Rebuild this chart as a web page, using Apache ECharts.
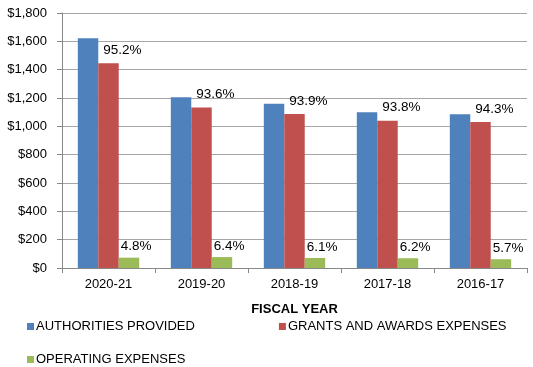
<!DOCTYPE html>
<html>
<head>
<meta charset="utf-8">
<script src="https://cdn.jsdelivr.net/npm/echarts@6/dist/echarts.min.js"></script>
<style>html,body{margin:0;padding:0;background:#fff;}#c{width:533px;height:367px;}</style>
</head>
<body>
<div id="c"></div>
<script>
const categories = ['2020-21', '2019-20', '2018-19', '2017-18', '2016-17'];
const authorities = [1621, 1205, 1160, 1100, 1085];
const grants = [1445, 1133, 1087, 1040, 1030];
const operating = [73, 77, 71, 69, 62];
const grantsPct = ['95.2%', '93.6%', '93.9%', '93.8%', '94.3%'];
const operatingPct = ['4.8%', '6.4%', '6.1%', '6.2%', '5.7%'];
const yTicks = [0, 200, 400, 600, 800, 1000, 1200, 1400, 1600, 1800];

const font = 'Liberation Sans, Arial, sans-serif';
const chart = echarts.init(document.getElementById('c'));
chart.setOption({
  animation: false,
  textStyle: { fontFamily: font },
  grid: { left: 62, right: 6, top: 13, bottom: 99, containLabel: false },
  legend: [
    { left: 22, top: 315, itemGap: 84, itemWidth: 7, itemHeight: 7, icon: 'rect',
      data: ['AUTHORITIES PROVIDED', 'GRANTS AND AWARDS EXPENSES'],
      textStyle: { fontFamily: font, fontSize: 13, color: '#000', padding: [0, 0, 0, -3] } },
    { left: 22, top: 348, itemWidth: 7, itemHeight: 7, icon: 'rect',
      data: ['OPERATING EXPENSES'],
      textStyle: { fontFamily: font, fontSize: 13, color: '#000', padding: [0, 0, 0, -3] } }
  ],
  xAxis: {
    type: 'category', data: categories,
    name: 'FISCAL YEAR', nameLocation: 'middle', nameGap: 35,
    nameTextStyle: { fontFamily: font, fontSize: 13, fontWeight: 'bold', color: '#000' },
    axisLine: { lineStyle: { color: '#888' } },
    axisTick: { show: true, interval: 0, length: 5, lineStyle: { color: '#888' } },
    axisLabel: { fontFamily: font, fontSize: 13, color: '#000', margin: 10 }
  },
  yAxis: {
    type: 'value', min: yTicks[0], max: yTicks[yTicks.length - 1], interval: 200,
    axisLine: { show: true, lineStyle: { color: '#888' } },
    axisTick: { show: true, length: 5, lineStyle: { color: '#888' } },
    splitLine: { lineStyle: { color: '#a6a6a6' } },
    axisLabel: { fontFamily: font, fontSize: 13, color: '#000', margin: 15,
      formatter: v => '$' + v.toLocaleString('en-US') }
  },
  series: [
    { name: 'AUTHORITIES PROVIDED', type: 'bar', data: authorities, barGap: '0%', barCategoryGap: '34%',
      itemStyle: { color: '#4F81BD' } },
    { name: 'GRANTS AND AWARDS EXPENSES', type: 'bar', data: grants,
      itemStyle: { color: '#C0504D' },
      label: { show: true, position: [5, -6], align: 'left', verticalAlign: 'bottom',
        fontFamily: font, fontSize: 13.5, color: '#000',
        formatter: p => grantsPct[p.dataIndex] } },
    { name: 'OPERATING EXPENSES', type: 'bar', data: operating,
      itemStyle: { color: '#9BBB59' },
      label: { show: true, position: [2, -4], align: 'left', verticalAlign: 'bottom',
        fontFamily: font, fontSize: 13.5, color: '#000',
        formatter: p => operatingPct[p.dataIndex] } }
  ]
});
</script>
</body>
</html>
